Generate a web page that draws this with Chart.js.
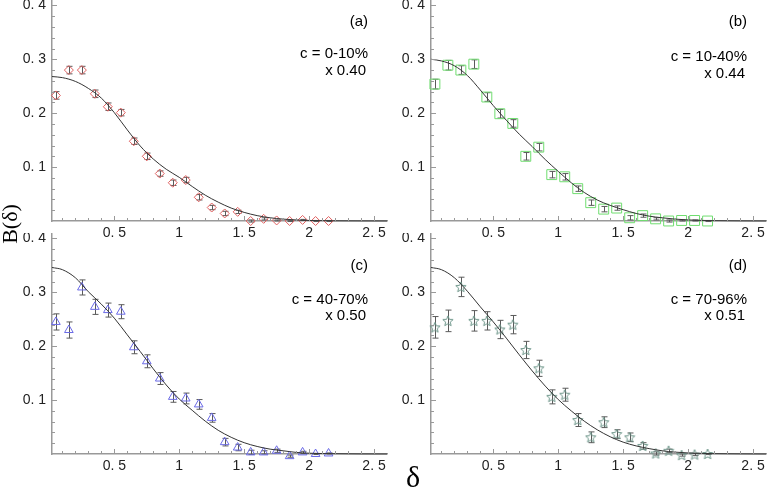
<!DOCTYPE html>
<html>
<head>
<meta charset="utf-8">
<script src="https://cdn.jsdelivr.net/npm/chart.js@4.4.1/dist/chart.umd.min.js"></script>
<style>
body { margin: 0; background: #fff; }
#wrap { position: relative; width: 774px; height: 490px; overflow: hidden; }
#wrap canvas { position: absolute; }
.axt { position: absolute; font-family: "Liberation Serif", "DejaVu Serif", serif; color: #000; white-space: nowrap; line-height: 1; }
#ylab { left: -16px; top: 213px; width: 52px; text-align: center; font-size: 22px; transform: rotate(-90deg); }
#xlab { left: 406px; top: 462px; font-size: 30px; }
</style>
</head>
<body>
<div id="wrap">
  <canvas id="pa" width="392" height="245" style="left:0;top:0"></canvas>
  <canvas id="pb" width="392" height="245" style="left:379px;top:0"></canvas>
  <canvas id="pc" width="392" height="245" style="left:0;top:233px"></canvas>
  <canvas id="pd" width="392" height="245" style="left:379px;top:233px"></canvas>
  <div class="axt" id="ylab">B(δ)</div>
  <div class="axt" id="xlab">δ</div>
</div>
<script>
// data points (delta bins)
const deltaX = [0.05, 0.15, 0.25, 0.35, 0.45, 0.55, 0.65, 0.75, 0.85, 0.95, 1.05,
                1.15, 1.25, 1.35, 1.45, 1.55, 1.65, 1.75, 1.85, 1.95, 2.05, 2.15];

const bA = [0.233, 0.280, 0.280, 0.236, 0.212, 0.201, 0.148, 0.120, 0.088, 0.071, 0.076,
            0.044, 0.025, 0.014, 0.017, 0.000, 0.004, 0.001, 0.000, 0.002, 0.000, 0.000];
const errA = [0.007, 0.007, 0.007, 0.007, 0.007, 0.006, 0.006, 0.006, 0.005, 0.005, 0.005,
              0.005, 0.004, 0.004, 0.003, 0.002, 0.002, 0.001, 0.001, 0.001, 0.001, 0.001];

const bB = [0.254, 0.289, 0.280, 0.291, 0.230, 0.199, 0.181, 0.120, 0.137, 0.086, 0.082,
            0.060, 0.034, 0.022, 0.024, 0.006, 0.010, 0.004, 0.000, 0.001, 0.001, 0.000];
const errB = [0.009, 0.009, 0.008, 0.008, 0.008, 0.008, 0.007, 0.007, 0.007, 0.006, 0.006,
              0.005, 0.005, 0.005, 0.004, 0.004, 0.003, 0.002, 0.002, 0.001, 0.001, 0.001];

const bC = [0.245, 0.230, 0.309, 0.273, 0.267, 0.264, 0.198, 0.172, 0.140, 0.106, 0.103,
            0.092, 0.067, 0.022, 0.012, 0.003, 0.003, 0.006, -0.004, 0.003, 0.000, 0.001];
const errC = [0.015, 0.015, 0.014, 0.014, 0.013, 0.013, 0.012, 0.012, 0.011, 0.010, 0.010,
              0.009, 0.008, 0.007, 0.006, 0.004, 0.003, 0.003, 0.002, 0.002, 0.001, 0.001];

const bD = [0.235, 0.247, 0.310, 0.247, 0.247, 0.231, 0.240, 0.193, 0.159, 0.106, 0.110,
            0.063, 0.031, 0.059, 0.037, 0.031, 0.015, 0.001, 0.006, -0.002, -0.001, 0.000];
const errD = [0.020, 0.020, 0.018, 0.019, 0.017, 0.017, 0.017, 0.016, 0.015, 0.013, 0.012,
              0.012, 0.010, 0.010, 0.008, 0.008, 0.006, 0.003, 0.003, 0.002, 0.002, 0.001];

// fit curves
const fitX = [0.02, 0.1, 0.2, 0.3, 0.4, 0.5, 0.6, 0.7, 0.8, 0.9, 1.0, 1.1, 1.2,
              1.3, 1.4, 1.5, 1.6, 1.7, 1.8, 1.9, 2.0, 2.2, 2.4, 2.6];
const fitA = [0.268, 0.266, 0.259, 0.246, 0.228, 0.201, 0.169, 0.139, 0.115, 0.096, 0.081, 0.064, 0.048,
              0.035, 0.024, 0.016, 0.010, 0.006, 0.0035, 0.002, 0.001, 0.0003, 0.0001, 0];
const fitB = [0.300, 0.297, 0.288, 0.270, 0.243, 0.214, 0.187, 0.161, 0.138, 0.114, 0.092, 0.071, 0.053,
              0.039, 0.029, 0.021, 0.014, 0.009, 0.006, 0.0035, 0.002, 0.0006, 0.0002, 0];
const fitC = [0.346, 0.342, 0.327, 0.301, 0.278, 0.252, 0.221, 0.190, 0.158, 0.128, 0.102, 0.081, 0.061,
              0.044, 0.031, 0.021, 0.014, 0.009, 0.006, 0.003, 0.0015, 0.0005, 0.0001, 0];
const fitD = [0.346, 0.342, 0.327, 0.302, 0.273, 0.245, 0.215, 0.184, 0.154, 0.126, 0.101, 0.080, 0.061,
              0.045, 0.032, 0.022, 0.015, 0.010, 0.006, 0.0035, 0.002, 0.0006, 0.0002, 0];

const panelTags = ['(a)', '(b)', '(c)', '(d)'];
const centLabels = ['c = 0-10%', 'c = 10-40%', 'c = 40-70%', 'c = 70-96%'];
const scaleLabels = ['x 0.40', 'x 0.44', 'x 0.50', 'x 0.51'];

const xTickVals = [0.5, 1, 1.5, 2, 2.5];
const yTickVals = [0.1, 0.2, 0.3, 0.4];

// open five-point star for panel (d)
function starImage(color) {
    const c = document.createElement('canvas');
    c.width = 12; c.height = 12;
    const g = c.getContext('2d');
    g.strokeStyle = color;
    g.lineWidth = 1;
    g.beginPath();
    for (let i = 0; i < 10; i++) {
        const r = i % 2 ? 2.4 : 5.4;
        const a = -Math.PI / 2 + i * Math.PI / 5;
        const px = 6 + r * Math.cos(a), py = 6.4 + r * Math.sin(a);
        i ? g.lineTo(px, py) : g.moveTo(px, py);
    }
    g.closePath();
    g.stroke();
    return c;
}

const fmt = v => Number.isInteger(v) ? String(v) : String(v).replace('.', '. ');

// error bars drawn from the custom "errs" array of a dataset
const errBars = {
    id: 'errBars',
    beforeDatasetsDraw(chart) {
        const { ctx } = chart, xs = chart.scales.x, ys = chart.scales.y;
        chart.data.datasets.forEach(ds => {
            if (!ds.errs) return;
            ctx.save();
            ctx.strokeStyle = '#5a5a5a';
            ctx.lineWidth = 1;
            ds.data.forEach((p, i) => {
                const e = ds.errs[i];
                const x = Math.round(xs.getPixelForValue(p.x)) + 0.5;
                const y1 = ys.getPixelForValue(p.y + e), y2 = ys.getPixelForValue(p.y - e);
                ctx.beginPath();
                ctx.moveTo(x, y1); ctx.lineTo(x, y2);
                ctx.moveTo(x - 3, y1); ctx.lineTo(x + 3, y1);
                ctx.moveTo(x - 3, y2); ctx.lineTo(x + 3, y2);
                ctx.stroke();
            });
            ctx.restore();
        });
    }
};

// small inward tick marks (major + minor) on both axes
const innerTicks = {
    id: 'innerTicks',
    afterDraw(chart) {
        const { ctx, chartArea } = chart, xs = chart.scales.x, ys = chart.scales.y;
        ctx.save();
        ctx.strokeStyle = '#999';
        ctx.lineWidth = 1;
        ctx.beginPath();
        for (let k = 1; k <= 25; k++) {
            const v = k / 10, x = Math.round(xs.getPixelForValue(v)) + 0.5;
            const len = k % 5 === 0 ? 5 : 3;
            ctx.moveTo(x, chartArea.bottom); ctx.lineTo(x, chartArea.bottom - len);
        }
        for (let k = 1; k <= 20; k++) {
            const v = k / 50, y = Math.round(ys.getPixelForValue(v)) + 0.5;
            const len = k % 5 === 0 ? 5 : 3;
            ctx.moveTo(chartArea.left, y); ctx.lineTo(chartArea.left + len, y);
        }
        ctx.stroke();
        ctx.restore();
    }
};

// panel letter and centrality text in the upper right corner
const panelText = {
    id: 'panelText',
    afterDraw(chart, args, opts) {
        const { ctx, chartArea } = chart;
        const x = chartArea.right - 19, t = chartArea.top;
        ctx.save();
        ctx.fillStyle = '#000';
        ctx.font = '15px "Liberation Sans", Arial, sans-serif';
        ctx.textAlign = 'right';
        ctx.textBaseline = 'middle';
        ctx.fillText(opts.tag, x, t + opts.rows[0]);
        ctx.fillText(opts.cent, x, t + opts.rows[1]);
        ctx.fillText(opts.mult, x - 2, t + opts.rows[2]);
        ctx.restore();
    }
};

function makePanel(id, idx, pts, errs, fit, style, color, radius, rows) {
    const tickFont = { family: '"Liberation Sans", Arial, sans-serif', size: 14 };
    return new Chart(document.getElementById(id), {
        type: 'scatter',
        data: {
            datasets: [
                {
                    data: fitX.map((x, i) => ({ x, y: fit[i] })),
                    showLine: true, borderColor: '#333', borderWidth: 1,
                    pointRadius: 0, cubicInterpolationMode: 'monotone', clip: false
                },
                {
                    data: deltaX.map((x, i) => ({ x, y: pts[i] })),
                    errs,
                    pointStyle: style, pointRadius: radius, pointBorderWidth: 1,
                    pointBorderColor: color, pointBackgroundColor: 'rgba(0,0,0,0)',
                    clip: false
                }
            ]
        },
        options: {
            responsive: false, animation: false,
            layout: { autoPadding: false, padding: { left: 0, right: 5, top: 0, bottom: 0 } },
            plugins: {
                legend: { display: false }, tooltip: { enabled: false },
                panelText: { tag: panelTags[idx], cent: centLabels[idx], mult: scaleLabels[idx], rows }
            },
            scales: {
                x: {
                    type: 'linear', min: 0.02, max: 2.6,
                    grid: { display: false, drawTicks: false },
                    border: { display: true, color: '#999', width: 1.5 },
                    afterBuildTicks: s => { s.ticks = xTickVals.map(value => ({ value })); },
                    afterFit: s => { s.height = 24; s.paddingLeft = 0; s.paddingRight = 0; },
                    ticks: { color: '#222', font: tickFont, padding: 4, maxRotation: 0, autoSkip: false, callback: fmt }
                },
                y: {
                    type: 'linear', min: 0, max: 0.41,
                    grid: { display: false, drawTicks: false },
                    border: { display: true, color: '#999', width: 1.5 },
                    afterBuildTicks: s => { s.ticks = yTickVals.map(value => ({ value })); },
                    afterFit: s => { s.width = 52; s.paddingTop = 0; s.paddingBottom = 0; },
                    ticks: { color: '#222', font: tickFont, padding: 6, autoSkip: false, callback: fmt }
                }
            }
        },
        plugins: [errBars, innerTicks, panelText]
    });
}

makePanel('pa', 0, bA, errA, fitA, 'rectRot', '#e06060', 4.5, [22, 54, 71]);
makePanel('pb', 1, bB, errB, fitB, 'rect', '#70dd70', 7, [22, 57, 74]);
makePanel('pc', 2, bC, errC, fitC, 'triangle', '#6a6ae6', 5, [33, 67, 83]);
makePanel('pd', 3, bD, errD, fitD, starImage('#6f978b'), '#6f978b', 5, [33, 67, 83]);
</script>
</body>
</html>
